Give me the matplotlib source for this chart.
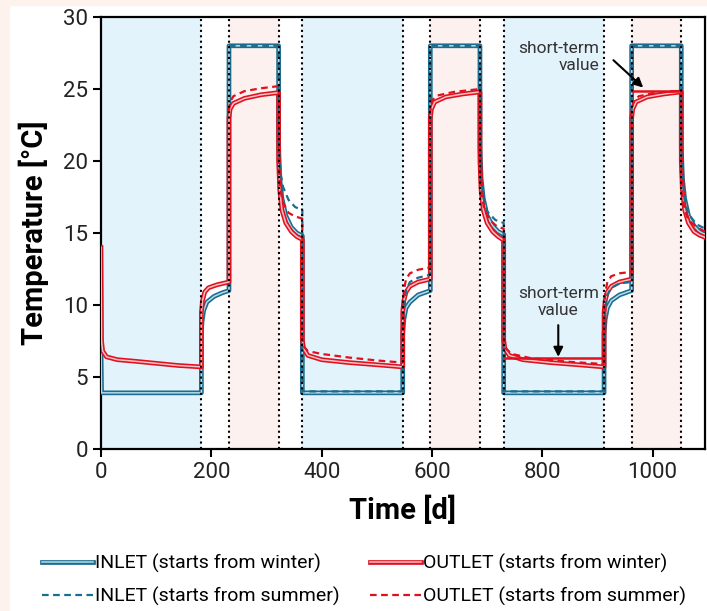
import matplotlib
matplotlib.use("Agg")
import matplotlib.pyplot as plt
import matplotlib.patheffects as pe
from matplotlib.patches import Rectangle

plt.rcParams["font.family"] = ["Roboto", "DejaVu Sans"]

# --- datos ---
# limites de estaciones [d]
bordes = [182, 232, 322, 365, 547, 597, 687, 730, 912, 962, 1052]
inviernos = [(0, 182), (365, 547), (730, 912)]
veranos = [(232, 322), (597, 687), (962, 1052)]

# INLET (starts from winter)
t_in_w = [0, 1, 182, 182, 183, 186, 192, 205, 220, 232, 232, 322, 322, 324, 328, 335, 345, 355, 365,
          365, 547, 547, 549, 553, 560, 575, 597, 597, 687, 687, 689, 693, 700, 710, 720, 730,
          730, 912, 912, 914, 918, 925, 940, 962, 962, 1052, 1052, 1054, 1058, 1065, 1075, 1085, 1095]
in_w = [7.0, 3.9, 3.9, 8.0, 8.8, 9.6, 10.2, 10.6, 10.85, 11.0, 28, 28, 21.0, 18.8, 17.4, 16.2, 15.4, 15.0, 14.8,
        3.9, 3.9, 8.0, 9.0, 9.8, 10.2, 10.7, 11.0, 28, 28, 21.0, 18.8, 17.4, 16.2, 15.5, 15.1, 14.9,
        3.9, 3.9, 8.0, 9.0, 9.8, 10.3, 10.7, 11.0, 28, 28, 21.0, 18.8, 17.4, 16.2, 15.5, 15.1, 14.9]

# OUTLET (starts from winter)
t_out_w = [0, 1, 3, 10, 30, 60, 100, 140, 182, 182, 184, 188, 195, 210, 232, 232, 234, 240, 260, 290, 322,
           322, 324, 328, 335, 345, 355, 365, 365, 367, 375, 400, 450, 500, 547,
           547, 549, 553, 560, 575, 597, 597, 599, 605, 625, 655, 687,
           687, 689, 693, 700, 710, 720, 730, 730, 732, 740, 765, 815, 865, 912,
           912, 914, 918, 925, 940, 962, 962, 964, 970, 990, 1020, 1052,
           1052, 1054, 1058, 1065, 1075, 1085, 1095]
out_w = [14.0, 7.5, 6.8, 6.4, 6.2, 6.1, 5.95, 5.8, 5.7, 9.5, 10.3, 10.9, 11.2, 11.4, 11.6, 23.0, 23.6, 24.0, 24.35, 24.6, 24.75,
         20.0, 18.0, 16.6, 15.7, 15.1, 14.75, 14.55, 7.6, 7.0, 6.5, 6.2, 6.0, 5.85, 5.7,
         9.5, 10.3, 10.9, 11.3, 11.6, 11.8, 23.0, 23.6, 24.1, 24.45, 24.65, 24.8,
         20.0, 18.0, 16.6, 15.7, 15.1, 14.75, 14.5, 7.6, 7.0, 6.5, 6.2, 6.0, 5.85, 5.7,
         9.5, 10.3, 10.9, 11.3, 11.6, 11.8, 23.0, 23.6, 24.1, 24.45, 24.65, 24.8,
         20.0, 18.0, 16.6, 15.7, 15.1, 14.85, 14.7]

# INLET (starts from summer)
t_in_s = [232, 322, 322, 325, 330, 340, 352, 365, 365, 547, 547, 549, 553, 560, 575, 597, 597, 687,
          687, 689, 693, 700, 715, 730, 730, 912, 912, 914, 918, 925, 940, 962, 962, 1052,
          1052, 1054, 1058, 1065, 1080, 1095]
in_s = [28, 28, 21.5, 19.3, 18.2, 17.3, 16.8, 16.6, 4.0, 4.0, 8.5, 10.0, 11.0, 11.6, 11.9, 12.1, 28, 28,
        21.0, 18.8, 17.5, 16.5, 15.9, 15.7, 4.0, 4.0, 8.5, 9.8, 10.7, 11.2, 11.5, 11.6, 28, 28,
        21.0, 18.8, 17.3, 16.3, 15.6, 15.3]

# OUTLET (starts from summer)
t_out_s = [232, 234, 240, 260, 290, 322, 322, 325, 330, 340, 352, 365, 365, 368, 375, 400, 450, 500, 547,
           547, 549, 553, 560, 575, 597, 597, 600, 610, 640, 687, 687, 690, 695, 705, 718, 730,
           730, 733, 745, 780, 850, 912, 912, 914, 918, 925, 940, 962, 962, 965, 975, 1000, 1052,
           1052, 1054, 1058, 1065, 1080, 1095]
out_s = [23.5, 24.1, 24.5, 24.85, 25.05, 25.2, 20.0, 18.0, 17.1, 16.4, 16.15, 16.0, 7.8, 7.1, 6.8, 6.6, 6.35, 6.15, 6.0,
         9.5, 11.0, 11.8, 12.2, 12.45, 12.6, 23.5, 24.2, 24.55, 24.8, 25.0, 20.0, 17.7, 16.6, 15.9, 15.45, 15.3,
         7.6, 7.0, 6.6, 6.3, 6.05, 5.9, 9.5, 10.8, 11.6, 12.0, 12.2, 12.3, 23.5, 24.1, 24.5, 24.7, 24.9,
         20.0, 17.8, 16.6, 15.9, 15.4, 15.1]

# valores de corto plazo
corto_invierno = (733, 912, 6.3)
corto_verano = (962, 1052, 24.85)

azul = "#1b6c8e"
azul_claro = "#b5dbea"
rojo = "#e0111f"
rojo_claro = "#f7c0c4"

fig = plt.figure(figsize=(7.07, 6.11), dpi=100)
fig.patch.set_facecolor("white")
fig.patches.append(Rectangle((0, 1 - 5 / 611), 1, 5 / 611, transform=fig.transFigure, color="#fdf3ec", zorder=-10))
fig.patches.append(Rectangle((0, 0), 9 / 707, 1, transform=fig.transFigure, color="#fdf3ec", zorder=-10))

ax = fig.add_axes([101 / 707, 1 - 449 / 611, 604 / 707, 432 / 611])

# --- sombreado de estaciones ---
for a, b in inviernos:
    ax.axvspan(a, b, color="#e3f3fb", lw=0, zorder=0)
for a, b in veranos:
    ax.axvspan(a, b, color="#fdf1f0", lw=0, zorder=0)

# --- curvas (linea doble: borde de color, centro claro) ---
def doble(color):
    return [pe.Stroke(linewidth=3.4, foreground=color), pe.Normal()]

l_in_w, = ax.plot(t_in_w, in_w, color=azul_claro, lw=1.1, zorder=3,
                  path_effects=doble(azul), label="INLET (starts from winter)")
l_out_w, = ax.plot(t_out_w, out_w, color=rojo_claro, lw=1.1, zorder=4,
                   path_effects=doble(rojo), label="OUTLET (starts from winter)")
l_in_s, = ax.plot(t_in_s, in_s, color=azul, lw=1.6, ls=(0, (3, 2)), zorder=5,
                  label="INLET (starts from summer)")
l_out_s, = ax.plot(t_out_s, out_s, color=rojo, lw=1.6, ls=(0, (3, 2)), zorder=5,
                   label="OUTLET (starts from summer)")

# lineas de corto plazo
for a, b, v in [corto_invierno, corto_verano]:
    ax.plot([a, b], [v, v], color=rojo, lw=1.8, zorder=6)

# limites de estaciones
for x in bordes:
    ax.axvline(x, color="black", lw=1.5, ls=(0, (1, 1.6)), zorder=7)

# anotaciones
ax.text(903, 27.2, "short-term\nvalue", ha="right", va="center", fontsize=12.5, color="#333333",
        linespacing=1.15, zorder=8)
ax.annotate("", xy=(983, 25.1), xytext=(929, 27.0),
            arrowprops=dict(arrowstyle="-|>", color="black", lw=1.5, shrinkA=0, shrinkB=0,
                            mutation_scale=14), zorder=8)
ax.text(829, 10.2, "short-term\nvalue", ha="center", va="center", fontsize=12.5, color="#333333",
        linespacing=1.15, zorder=8)
ax.annotate("", xy=(829, 6.4), xytext=(829, 8.6),
            arrowprops=dict(arrowstyle="-|>", color="black", lw=1.5, shrinkA=0, shrinkB=0,
                            mutation_scale=14), zorder=8)

# --- ejes ---
ax.set_xlim(0, 1095)
ax.set_ylim(0, 30)
ax.set_xticks([0, 200, 400, 600, 800, 1000])
ax.set_yticks([0, 5, 10, 15, 20, 25, 30])
ax.tick_params(direction="out", length=6, width=1.5, labelsize=16, colors="black", labelcolor="#222222")
for s in ax.spines.values():
    s.set_linewidth(1.6)
ax.set_xlabel("Time [d]", fontsize=21, fontweight="bold", labelpad=9)
ax.set_ylabel("Temperature [°C]", fontsize=21, fontweight="bold", labelpad=10)

fig.legend(handles=[l_in_w, l_in_s, l_out_w, l_out_s], loc="center", bbox_to_anchor=(0.515, 1 - 580 / 611),
           ncol=2, frameon=False, fontsize=14, handlelength=2.6, handletextpad=0.1, columnspacing=1.6,
           labelspacing=0.75)

fig.savefig("out.png", dpi=100)
